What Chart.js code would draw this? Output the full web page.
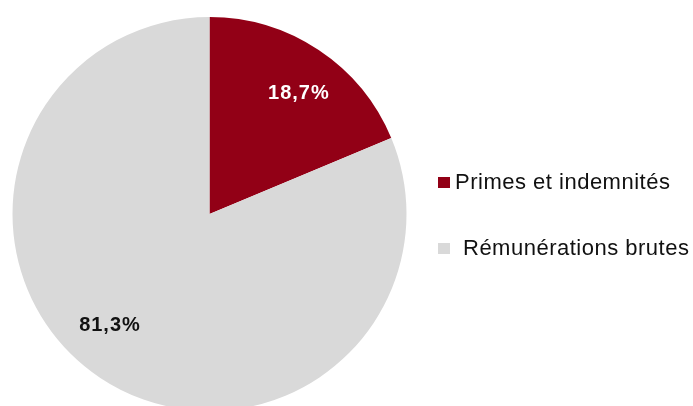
<!DOCTYPE html>
<html>
<head>
<meta charset="utf-8">
<script src="https://cdn.jsdelivr.net/npm/chart.js@4/dist/chart.umd.min.js"></script>
<style>
    html, body { margin: 0; padding: 0; background: #fff; overflow: hidden; width: 693px; height: 406px; }
    canvas { display: block; }
</style>
</head>
<body>
<canvas id="pieChart" width="693" height="420"></canvas>
<script>
// données de la répartition (en %)
var categories = ['Primes et indemnités', 'Rémunérations brutes'];
var values = [18.7, 81.3];
var colors = ['#920016', '#d9d9d9'];
var labelColors = ['#ffffff', '#111111'];
// petit décalage angulaire des étiquettes (degrés)
var labelShift = [3, 8];

var fontFamily = '"Liberation Sans", Arial, sans-serif';

function formatPct(v) {
    return v.toFixed(1).replace('.', ',') + '%';
}

// étiquettes de valeur dans les secteurs
var sliceLabels = {
    id: 'sliceLabels',
    afterDatasetsDraw(chart) {
        var ctx = chart.ctx;
        var meta = chart.getDatasetMeta(0);
        ctx.save();
        ctx.font = 'bold 20px ' + fontFamily;
        ctx.letterSpacing = '1px';
        ctx.textAlign = 'center';
        ctx.textBaseline = 'middle';
        meta.data.forEach(function (arc, i) {
            var p = arc.getProps(['x', 'y', 'startAngle', 'endAngle', 'outerRadius'], true);
            var a = (p.startAngle + p.endAngle) / 2 + labelShift[i] * Math.PI / 180;
            var r = p.outerRadius * 0.76;
            ctx.fillStyle = labelColors[i];
            ctx.fillText(formatPct(values[i]), p.x + Math.cos(a) * r, p.y + Math.sin(a) * r);
        });
        ctx.restore();
    }
};

// légende à droite du camembert
var sideLegend = {
    id: 'sideLegend',
    afterDraw(chart) {
        var ctx = chart.ctx;
        var x = 438, y0 = 183, gap = 66;
        ctx.save();
        ctx.font = '22px ' + fontFamily;
        ctx.letterSpacing = '0.5px';
        ctx.textBaseline = 'middle';
        categories.forEach(function (name, i) {
            var y = y0 + i * gap;
            ctx.fillStyle = colors[i];
            ctx.fillRect(x, y - 6, 12, 11);
            ctx.fillStyle = '#111111';
            ctx.fillText(name, i === 0 ? x + 17 : x + 25, y);
        });
        ctx.restore();
    }
};

var ctx = document.getElementById('pieChart').getContext('2d');
new Chart(ctx, {
    type: 'pie',
    data: {
        labels: categories,
        datasets: [{
            data: values,
            backgroundColor: colors,
            borderWidth: 0
        }]
    },
    options: {
        responsive: false,
        animation: false,
        layout: { padding: { left: 12, top: 17, right: 286, bottom: 9 } },
        plugins: {
            legend: { display: false },
            tooltip: { enabled: false }
        }
    },
    plugins: [sliceLabels, sideLegend]
});
</script>
</body>
</html>
